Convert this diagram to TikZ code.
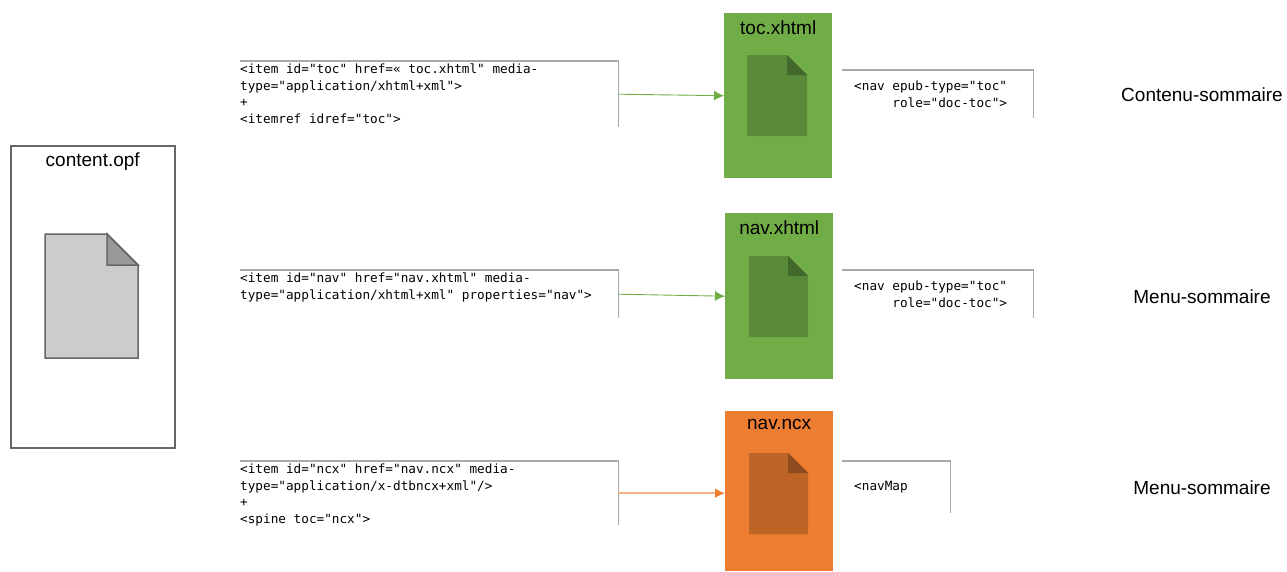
\documentclass[tikz,border=0pt]{standalone}
\usepackage{fontspec}
\usepackage{tikz}
\usetikzlibrary{positioning,arrows.meta}
\setmainfont{Liberation Sans}
\newfontfamily\codefont{DejaVu Sans Mono}
\definecolor{filegreen}{HTML}{70AD47}
\definecolor{fileorange}{HTML}{ED7D31}
\definecolor{linkorange}{HTML}{F4B183}
\definecolor{bracketgray}{HTML}{A9A9A9}
\definecolor{opfgray}{HTML}{666666}
% sheet with turned corner: x, y, width, height, fold, sheet colour, fold colour
\newcommand{\sheet}[7]{
  \fill[#6] (#1,#2) -- ++(#3-#5,0) -- ++(#5,#5) -- (#1+#3,#2+#4) -- (#1,#2+#4) -- cycle;
  \fill[#7] (#1+#3-#5,#2) -- ++(#5,#5) -- ++(-#5,0) -- cycle;
}

\begin{document}
\begin{tikzpicture}[
  x=1pt,y=-1pt,
  filenode/.style={minimum width=108pt,minimum height=165pt,inner sep=0pt},
  titlenode/.style={font=\fontsize{19}{22}\selectfont,inner sep=0pt,below=8pt of #1.north},
  codenode/.style={font=\codefont\fontsize{12.7}{16.5}\selectfont,align=left,inner sep=0pt},
  rolenode/.style={font=\fontsize{19}{22}\selectfont,inner sep=0pt},
  bracket/.style={draw=bracketgray,line width=1.6pt},
  itemnode/.style={minimum width=378pt,inner sep=0pt,anchor=north west},
  navnode/.style={inner sep=0pt,anchor=north west},
  greenlink/.style={draw=filegreen,line width=0.9pt,-{Latex[length=10pt,width=10pt]}},
  orangelink/.style={draw=linkorange,line width=1.8pt,-{Latex[length=10pt,width=10pt,color=fileorange]}},
]
\useasboundingbox (0,0) rectangle (1287,571);

% content.opf
\node[draw=opfgray,line width=1.5pt,minimum width=164pt,minimum height=302pt,inner sep=0pt,anchor=north west] (opf) at (10,145) {};
\node[font=\fontsize{19}{22}\selectfont,inner sep=0pt,below=8pt of opf.north] (opftitle) {content.opf};
\filldraw[draw=opfgray,line width=1.5pt,fill=black!20] (45,234) -- (107,234) -- (138,265) -- (138,358) -- (45,358) -- cycle;
\filldraw[draw=opfgray,line width=1.5pt,fill=black!40] (107,234) -- (138,265) -- (107,265) -- cycle;

% the three files
\node[filenode,fill=filegreen,anchor=north west] (toc) at (724,13) {};
\node[filenode,fill=filegreen,anchor=north west,minimum height=166pt] (nav) at (725,213) {};
\node[filenode,fill=fileorange,anchor=north west,minimum height=160pt] (ncx) at (725,411) {};
\node[titlenode=toc] (toctitle) {toc.xhtml};
\node[titlenode=nav] (navtitle) {nav.xhtml};
\node[titlenode=ncx] (ncxtitle) {nav.ncx};
\sheet{747}{55}{60}{81}{20}{filegreen!80!black}{filegreen!60!black}
\sheet{749}{256}{59}{81}{20}{filegreen!80!black}{filegreen!60!black}
\sheet{749}{453}{59}{81}{20}{fileorange!80!black}{fileorange!60!black}

% item brackets
\node[itemnode,minimum height=66pt] (tocitem) at (240,61) {};
\node[itemnode,minimum height=48pt] (navitem) at (240,270) {};
\node[itemnode,minimum height=64pt] (ncxitem) at (240,461) {};
\draw[bracket] (tocitem.north west) -- (tocitem.north east) -- (tocitem.south east);
\draw[bracket] (navitem.north west) -- (navitem.north east) -- (navitem.south east);
\draw[bracket] (ncxitem.north west) -- (ncxitem.north east) -- (ncxitem.south east);

\node[codenode,below right=3pt and 0pt of tocitem.north west] (tocitemtext) {<item id="toc" href=« toc.xhtml" media-\\type="application/xhtml+xml">\\+\\<itemref idref="toc">};
\node[codenode,below right=3pt and 0pt of navitem.north west] (navitemtext) {<item id="nav" href="nav.xhtml" media-\\type="application/xhtml+xml" properties="nav">};
\node[codenode,below right=3pt and 0pt of ncxitem.north west] (ncxitemtext) {<item id="ncx" href="nav.ncx" media-\\type="application/x-dtbncx+xml"/>\\+\\<spine toc="ncx">};

% nav brackets
\node[navnode,minimum width=191pt,minimum height=48pt] (tocnav) at (842,70) {};
\node[navnode,minimum width=191pt,minimum height=48pt] (navnav) at (842,270) {};
\node[navnode,minimum width=108pt,minimum height=52pt] (ncxnav) at (842,461) {};
\draw[bracket] (tocnav.north west) -- (tocnav.north east) -- (tocnav.south east);
\draw[bracket] (navnav.north west) -- (navnav.north east) -- (navnav.south east);
\draw[bracket] (ncxnav.north west) -- (ncxnav.north east) -- (ncxnav.south east);

\node[codenode,below right=11pt and 12pt of tocnav.north west] (tocnavtext) {<nav epub-type="toc"\\\ \ \ \ \ role="doc-toc">};
\node[codenode,below right=11pt and 12pt of navnav.north west] (navnavtext) {<nav epub-type="toc"\\\ \ \ \ \ role="doc-toc">};
\node[codenode,below right=20pt and 12pt of ncxnav.north west] (ncxnavtext) {<navMap};

% labels on the right
\node[rolenode] (tocrole) at (1202,95) {Contenu-sommaire};
\node[rolenode] (navrole) at (1202,297) {Menu-sommaire};
\node[rolenode] (ncxrole) at (1202,488) {Menu-sommaire};

\path (tocitem.east) edge[greenlink] (toc.west)
(navitem.east) edge[greenlink] (nav.west)
(ncxitem.east) edge[orangelink] (ncxitem.east -| ncx.west);
\end{tikzpicture}
\end{document}
